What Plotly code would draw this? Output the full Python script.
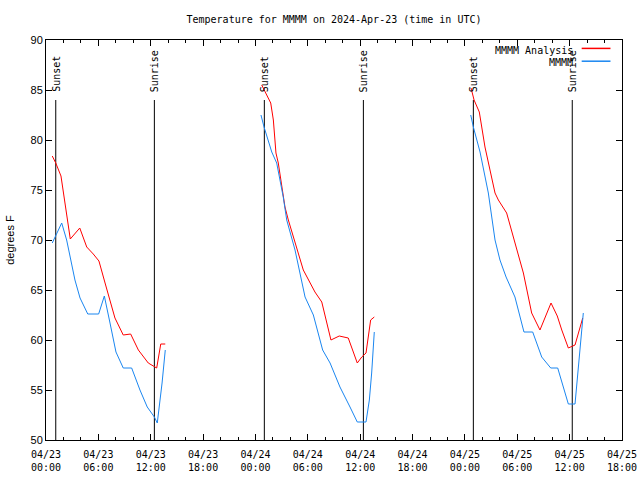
import plotly.graph_objects as go

# ---------------- data ----------------
analysis_times = [
    ["2024-04-23 00:43", "2024-04-23 01:07", "2024-04-23 01:43", "2024-04-23 02:11", "2024-04-23 02:33",
     "2024-04-23 02:47", "2024-04-23 03:52", "2024-04-23 04:40", "2024-04-23 05:25", "2024-04-23 06:04",
     "2024-04-23 06:46", "2024-04-23 07:20", "2024-04-23 07:54", "2024-04-23 08:51", "2024-04-23 09:42",
     "2024-04-23 10:35", "2024-04-23 11:43", "2024-04-23 12:41", "2024-04-23 13:09", "2024-04-23 13:40"],
    ["2024-04-24 00:43", "2024-04-24 01:06", "2024-04-24 01:45", "2024-04-24 02:03", "2024-04-24 02:21",
     "2024-04-24 02:37", "2024-04-24 03:00", "2024-04-24 03:23", "2024-04-24 03:46", "2024-04-24 04:32",
     "2024-04-24 05:29", "2024-04-24 06:49", "2024-04-24 07:36", "2024-04-24 08:39", "2024-04-24 09:36",
     "2024-04-24 10:38", "2024-04-24 11:40", "2024-04-24 12:11", "2024-04-24 12:40", "2024-04-24 13:12",
     "2024-04-24 13:37"],
    ["2024-04-25 00:42", "2024-04-25 01:03", "2024-04-25 01:39", "2024-04-25 02:18", "2024-04-25 03:27",
     "2024-04-25 03:50", "2024-04-25 04:47", "2024-04-25 05:44", "2024-04-25 06:42", "2024-04-25 07:39",
     "2024-04-25 08:36", "2024-04-25 09:52", "2024-04-25 10:35", "2024-04-25 11:06", "2024-04-25 11:51",
     "2024-04-25 12:37", "2024-04-25 13:00", "2024-04-25 13:30"],
]
analysis_values = [
    [78.4, 77.7, 76.4, 73.8, 71.7, 70.1, 71.2, 69.3, 68.6, 67.9,
     65.7, 64.0, 62.2, 60.5, 60.6, 59.0, 57.7, 57.2, 59.6, 59.6],
    [85.5, 84.8, 83.7, 82.0, 78.7, 77.7, 75.3, 73.3, 72.0, 69.7,
     67.0, 64.8, 63.8, 60.0, 60.4, 60.2, 57.7, 58.3, 58.7, 62.0, 62.3],
    [85.2, 84.0, 82.8, 79.3, 74.7, 74.0, 72.7, 69.7, 66.7, 62.7,
     61.0, 63.7, 62.4, 61.0, 59.2, 59.5, 60.7, 62.2],
]

obs_times = [
    ["2024-04-23 00:43", "2024-04-23 01:48", "2024-04-23 02:22", "2024-04-23 02:57", "2024-04-23 03:19",
     "2024-04-23 03:54", "2024-04-23 04:47", "2024-04-23 06:02", "2024-04-23 06:41", "2024-04-23 07:20",
     "2024-04-23 08:01", "2024-04-23 08:51", "2024-04-23 09:49", "2024-04-23 10:46", "2024-04-23 11:36",
     "2024-04-23 12:25", "2024-04-23 12:45", "2024-04-23 13:18", "2024-04-23 13:40"],
    ["2024-04-24 00:38", "2024-04-24 00:59", "2024-04-24 01:52", "2024-04-24 02:26", "2024-04-24 03:11",
     "2024-04-24 03:35", "2024-04-24 04:32", "2024-04-24 05:41", "2024-04-24 06:38", "2024-04-24 07:42",
     "2024-04-24 08:33", "2024-04-24 09:41", "2024-04-24 10:50", "2024-04-24 11:40", "2024-04-24 12:40",
     "2024-04-24 13:03", "2024-04-24 13:19", "2024-04-24 13:37"],
    ["2024-04-25 00:40", "2024-04-25 00:58", "2024-04-25 01:44", "2024-04-25 02:41", "2024-04-25 03:27",
     "2024-04-25 04:01", "2024-04-25 04:43", "2024-04-25 05:44", "2024-04-25 06:46", "2024-04-25 07:46",
     "2024-04-25 08:48", "2024-04-25 09:50", "2024-04-25 10:38", "2024-04-25 11:51", "2024-04-25 12:37",
     "2024-04-25 13:07", "2024-04-25 13:34"],
]
obs_values = [
    [69.7, 71.7, 70.0, 67.7, 66.0, 64.2, 62.6, 62.6, 64.4, 61.7,
     58.8, 57.2, 57.2, 55.0, 53.3, 52.3, 51.7, 55.7, 59.0],
    [82.5, 81.3, 78.8, 77.7, 74.3, 72.0, 69.0, 64.3, 62.5, 59.0,
     57.7, 55.3, 53.3, 51.8, 51.8, 54.0, 56.7, 60.8],
    [82.5, 81.3, 78.8, 74.7, 70.0, 68.0, 66.3, 64.3, 60.8, 60.8,
     58.3, 57.2, 57.2, 53.6, 53.6, 58.2, 62.7],
]

sunset_times = ["2024-04-23 01:07", "2024-04-24 01:01", "2024-04-25 00:58"]
sunrise_times = ["2024-04-23 12:25", "2024-04-24 12:22", "2024-04-25 12:18"]
sun_line_top = 84.0
sun_label_base = 84.6

x_range = ["2024-04-23 00:00", "2024-04-25 18:00"]
y_range = [50, 90]

series_names = ["MMMM Analysis", "MMMM"]
series_colors = ["#ff0000", "#1a86f0"]

title_text = "Temperature for MMMM on 2024-Apr-23 (time in UTC)"
y_title = "degrees F"

MONO = "DejaVu Sans Mono"
SANS = "Liberation Sans"

FIG_W, FIG_H = 640, 480


def join_days(times, values):
    xs, ys = [], []
    for t, v in zip(times, values):
        if xs:
            xs.append(None)
            ys.append(None)
        xs.extend(t)
        ys.extend(v)
    return xs, ys


fig = go.Figure()

ax, ay = join_days(analysis_times, analysis_values)
ox, oy = join_days(obs_times, obs_values)

fig.add_trace(go.Scatter(x=ax, y=ay, mode="lines", name=series_names[0],
                         line=dict(color=series_colors[0], width=1), connectgaps=False,
                         showlegend=False))
fig.add_trace(go.Scatter(x=ox, y=oy, mode="lines", name=series_names[1],
                         line=dict(color=series_colors[1], width=1), connectgaps=False,
                         showlegend=False))

# sunrise/sunset lines and labels
for times, label in [(sunset_times, "Sunset"), (sunrise_times, "Sunrise")]:
    for t in times:
        fig.add_shape(type="line", xref="x", yref="y", x0=t, x1=t, y0=y_range[0], y1=sun_line_top,
                      line=dict(color="black", width=1), layer="below")
        fig.add_annotation(x=t, y=sun_label_base, xref="x", yref="y", text=label, textangle=-90,
                           showarrow=False, xanchor="center", yanchor="bottom",
                           font=dict(family=MONO, size=10, color="black"))

# manual gnuplot-style legend (text then line sample)
legend_rows = [(0.975, 0), (0.943, 1)]
for ypos, i in legend_rows:
    fig.add_annotation(x=0.919, y=ypos, xref="paper", yref="paper", text=series_names[i],
                       showarrow=False, xanchor="right", yanchor="middle",
                       font=dict(family=MONO, size=10, color="black"))
    fig.add_shape(type="line", xref="paper", yref="paper", x0=0.930, x1=0.980,
                  y0=ypos + 0.004, y1=ypos + 0.004,
                  line=dict(color=series_colors[i], width=1.5))

fig.update_layout(
    width=FIG_W, height=FIG_H,
    margin=dict(l=46, r=18, t=40, b=40, autoexpand=False),
    paper_bgcolor="white", plot_bgcolor="white",
    title=dict(text=title_text, x=0.5, xref="paper", xanchor="center", y=1 - 19 / FIG_H,
               yanchor="middle", yref="container", automargin=False,
               font=dict(family=MONO, size=10, color="black")),
    showlegend=False,
    hovermode=False,
)

fig.update_xaxes(
    type="date", range=x_range, automargin=False,
    tickmode="linear", tick0="2024-04-23 00:00", dtick=6 * 3600 * 1000,
    tickformat="%m/%d<br>%H:%M",
    ticks="inside", ticklen=6, tickcolor="black", tickwidth=1,
    minor=dict(ticks="inside", ticklen=3, dtick=2 * 3600 * 1000, tickcolor="black", showgrid=False),
    showline=True, linecolor="black", linewidth=1, mirror="ticks",
    showgrid=False, zeroline=False, ticklabelstandoff=5,
    tickfont=dict(family=MONO, size=10, color="black"),
)
fig.update_yaxes(
    range=y_range, automargin=False, tickmode="linear", tick0=50, dtick=5,
    ticks="inside", ticklen=6, tickcolor="black", tickwidth=1,
    showline=True, linecolor="black", linewidth=1, mirror="ticks",
    showgrid=False, zeroline=False,
    tickfont=dict(family=SANS, size=11, color="black"),
    title=dict(text=y_title, font=dict(family=SANS, size=11, color="black"), standoff=13),
)

fig.write_html("out.html",
               config={"displayModeBar": False, "staticPlot": True},
               post_script="document.body.style.margin='0';document.body.style.overflow='hidden';")
